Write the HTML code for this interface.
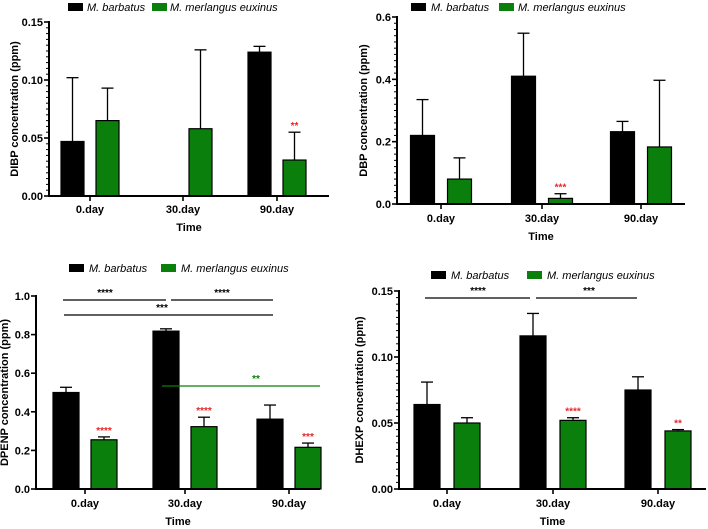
<!DOCTYPE html>
<html><head><meta charset="utf-8"><style>
body{margin:0;background:#fff;}
svg{display:block;font-family:"Liberation Sans",sans-serif;}
</style></head><body>
<svg id="fig" width="708" height="529" viewBox="0 0 708 529" xmlns="http://www.w3.org/2000/svg"></svg>
<script>
// ---- data ----
const categories = ["0.day","30.day","90.day"];
const seriesNames = ["M. barbatus","M. merlangus euxinus"];
const dibpBarbatus = [0.047, 0, 0.124];
const dibpBarbatusErr = [0.102, 0, 0.129];
const dibpMerlangus = [0.065, 0.058, 0.031];
const dibpMerlangusErr = [0.093, 0.126, 0.055];
const dibpStars = ["", "", "", "", "", "**"];
const dibpTicks = ["0.00","0.05","0.10","0.15"];

const dbpBarbatus = [0.22, 0.41, 0.232];
const dbpBarbatusErr = [0.335, 0.548, 0.265];
const dbpMerlangus = [0.08, 0.018, 0.183];
const dbpMerlangusErr = [0.148, 0.033, 0.397];
const dbpStars = ["", "", "", "***", "", ""];
const dbpTicks = ["0.0","0.2","0.4","0.6"];

const dpenpBarbatus = [0.5, 0.818, 0.362];
const dpenpBarbatusErr = [0.527, 0.83, 0.435];
const dpenpMerlangus = [0.255, 0.323, 0.216];
const dpenpMerlangusErr = [0.27, 0.372, 0.238];
const dpenpStars = ["", "****", "", "****", "", "***"];
const dpenpTicks = ["0.0","0.2","0.4","0.6","0.8","1.0"];

const dhexpBarbatus = [0.064, 0.116, 0.075];
const dhexpBarbatusErr = [0.081, 0.133, 0.085];
const dhexpMerlangus = [0.05, 0.052, 0.044];
const dhexpMerlangusErr = [0.054, 0.054, 0.045];
const dhexpStars = ["", "", "", "****", "", "**"];
const dhexpTicks = ["0.00","0.05","0.10","0.15"];

const NS="http://www.w3.org/2000/svg";
const svg=document.getElementById('fig');
const GREEN="#0b7f0b";
function el(tag,attrs,parent){const e=document.createElementNS(NS,tag);for(const k in attrs)e.setAttribute(k,attrs[k]);(parent||svg).appendChild(e);return e;}

function panel(p){
  const g=el('g',{});
  
  
  const ymax=parseFloat(p.ticks[p.ticks.length-1]);
  const Y=v=>p.y0+(p.y1-p.y0)*(v/ymax);
  const lg=el('g',{},g);
  
  
  [["#000",p.leg[0],p.leg[1]],[GREEN,p.leg[2],p.leg[3]]].forEach((d,i)=>{
    const r=el('rect',{x:d[1],y:p.legY-4,width:15,height:8,fill:d[0]},lg);
    
    
    const t=el('text',{x:d[2],y:p.legY+4,'font-size':11,'font-style':'italic'},lg);
    t.textContent=seriesNames[i];
    
    
  });
  for(let i=0;i<categories.length;i++){
    const c=p.cx[i];
    [[p.a,p.ae,"#000",-1],[p.b,p.be,GREEN,1]].forEach((s,si)=>{
      const v=s[0][i], e=s[1][i];
      const x=c+s[3]*p.off-p.bw/2;
      if(v>0){
        const r=el('rect',{x:x,y:Y(v),width:p.bw,height:p.y0-Y(v),fill:s[2],stroke:'#000','stroke-width':1.2},g);
        
        
        const xm=x+p.bw/2;
        el('line',{x1:xm,x2:xm,y1:Y(v),y2:Y(e),stroke:'#000','stroke-width':1.3},g);
        el('line',{x1:xm-6,x2:xm+6,y1:Y(e),y2:Y(e),stroke:'#000','stroke-width':1.3},g);
        const st=p.stars[i*2+si];
        if(st){const t=el('text',{x:xm,y:Y(e)-3,'font-size':10,fill:'#e8262b','text-anchor':'middle','font-weight':'bold'},g);t.textContent=st;
          
          }
      }
    });
  }
  el('line',{x1:p.x0,x2:p.x0,y1:p.y1-1,y2:p.y0+1,stroke:'#000','stroke-width':2},g);
  el('line',{x1:p.x0-1,x2:p.xe,y1:p.y0,y2:p.y0,stroke:'#000','stroke-width':2},g);
  p.ticks.forEach(t=>{
    const y=Y(parseFloat(t));
    el('line',{x1:p.x0-5,x2:p.x0,y1:y,y2:y,stroke:'#000','stroke-width':1.6},g);
    const tx=el('text',{x:p.x0-6,y:y+4,'font-size':11,'font-weight':'bold','text-anchor':'end'},g);tx.textContent=t;
    
    
  });
  if(p.minor){const step=parseFloat(p.ticks[1])/10;
    for(let k=1;k*step<ymax-1e-9;k++){if(k%10===0)continue;const y=Y(k*step);el('line',{x1:p.x0-3,x2:p.x0,y1:y,y2:y,stroke:'#000','stroke-width':1},g);}}
  categories.forEach((c,i)=>{
    el('line',{x1:p.cx[i],x2:p.cx[i],y1:p.y0,y2:p.y0+5,stroke:'#000','stroke-width':1.6},g);
    const t=el('text',{x:p.cx[i],y:p.catY,'font-size':11,'font-weight':'bold','text-anchor':'middle'},g);t.textContent=c;
    
    
  });
  const tt=el('text',{x:(p.x0+p.xe)/2,y:p.timeY,'font-size':11,'font-weight':'bold','text-anchor':'middle'},g);tt.textContent="Time";
  
  
  const yt=el('text',{x:0,y:0,'font-size':11,'font-weight':'bold','text-anchor':'middle',transform:`translate(${p.ylx},${(p.y0+p.y1)/2}) rotate(-90)`},g);yt.textContent=p.ylabel;
  
  
  (p.brackets||[]).forEach(b=>{
    el('line',{x1:b[0],x2:b[1],y1:b[2],y2:b[2],stroke:b[5]||'#000','stroke-width':1.2},g);
    const t=el('text',{x:b[3],y:b[2]-4,'font-size':10,'font-weight':'bold','text-anchor':'middle',fill:b[5]||'#000'},g);t.textContent=b[4];
    
    
  });
}

panel({name:'dibp-chart',a:dibpBarbatus,ae:dibpBarbatusErr,b:dibpMerlangus,be:dibpMerlangusErr,stars:dibpStars,ticks:dibpTicks,
  x0:49,xe:329,y0:196,y1:22,cx:[90,183,277],off:17.5,bw:23,legY:7,leg:[68,87,152,170],catY:213,timeY:231,ylx:18,ylabel:"DIBP concentration (ppm)",minor:true});
panel({name:'dbp-chart',a:dbpBarbatus,ae:dbpBarbatusErr,b:dbpMerlangus,be:dbpMerlangusErr,stars:dbpStars,ticks:dbpTicks,
  x0:397,xe:685,y0:204,y1:17,cx:[441,542,641],off:18.5,bw:24,legY:7,leg:[411,431,499,518],catY:222,timeY:240,ylx:367,ylabel:"DBP concentration (ppm)",minor:true});
panel({name:'dpenp-chart',a:dpenpBarbatus,ae:dpenpBarbatusErr,b:dpenpMerlangus,be:dpenpMerlangusErr,stars:dpenpStars,ticks:dpenpTicks,
  x0:36,xe:320,y0:489,y1:296,cx:[85,185,289],off:19,bw:26,legY:268,leg:[69,89,161,181],catY:507,timeY:525,ylx:8,ylabel:"DPENP concentration (ppm)",minor:false,
  brackets:[[63,166,300,105,"****"],[171,273,300,222,"****"],[64,273,315,162,"***"],[162,320,386,256,"**",GREEN]]});
panel({name:'dhexp-chart',a:dhexpBarbatus,ae:dhexpBarbatusErr,b:dhexpMerlangus,be:dhexpMerlangusErr,stars:dhexpStars,ticks:dhexpTicks,
  x0:399,xe:706,y0:489,y1:291,cx:[447,553,658],off:20,bw:26,legY:275,leg:[431,451,527,547],catY:507,timeY:525,ylx:363,ylabel:"DHEXP concentration (ppm)",minor:true,
  brackets:[[425,530,298,478,"****"],[536,637,298,589,"***"]]});
</script>
</body></html>
